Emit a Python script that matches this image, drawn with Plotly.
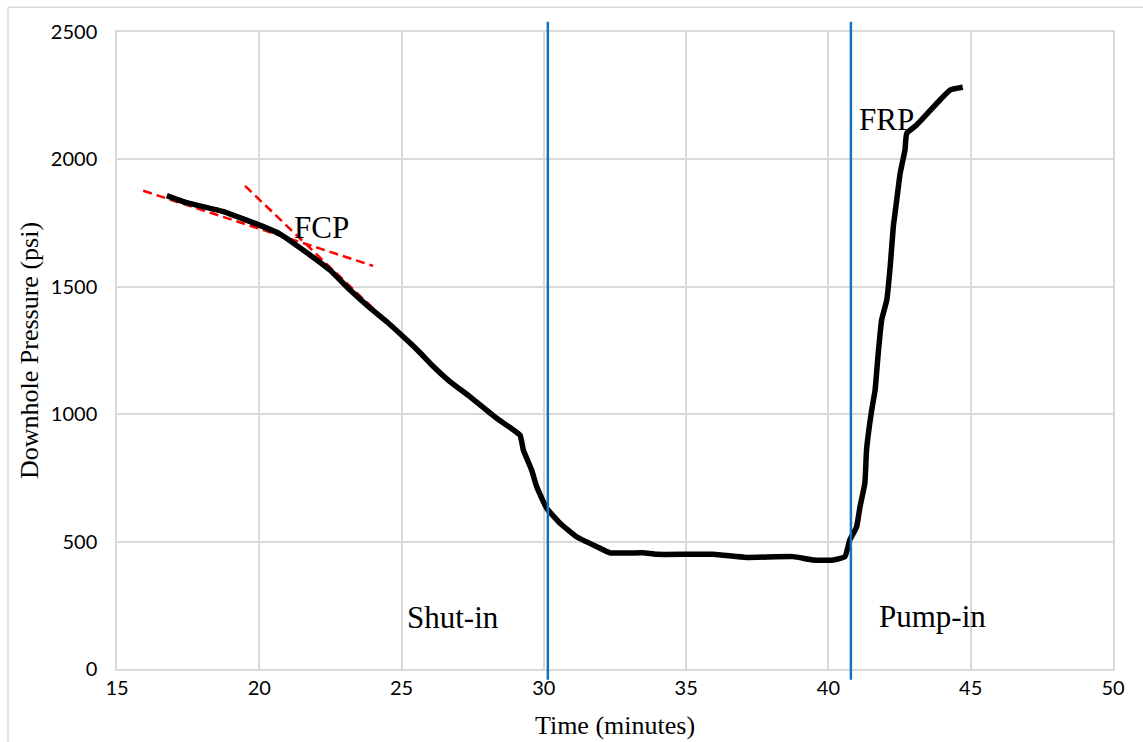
import plotly.graph_objects as go

# Downhole pressure record (minutes, psi)
time_min = [16.75, 17.45, 18.74, 20.14, 20.73, 21.78, 22.48, 23.19, 23.89, 24.48,
            25.30, 25.65, 26.00, 26.70, 27.40, 28.34, 29.16, 29.28, 29.57, 29.75,
            30.10, 30.57, 31.15, 31.86, 32.32, 33.49, 33.96, 35.95, 37.12, 38.76,
            39.46, 40.17, 40.58, 40.75, 40.99, 41.11, 41.28, 41.34, 41.52, 41.64,
            41.75, 41.87, 42.05, 42.17, 42.28, 42.40, 42.52, 42.69, 42.75, 43.10,
            43.92, 44.27, 44.72]
pressure_psi = [1858, 1830, 1795, 1736, 1707, 1625, 1566, 1487, 1417, 1363,
                1279, 1241, 1200, 1128, 1069, 984, 918, 859, 781, 715,
                631, 572, 519, 480, 456, 456, 450, 450, 438, 441,
                428, 428, 441, 506, 558, 637, 729, 860, 1016, 1095,
                1239, 1370, 1448, 1579, 1736, 1840, 1945, 2037, 2102, 2135,
                2233, 2272, 2283]

# Tangent lines used to pick the fracture closure pressure
tangent1_x = [15.92, 24.0]
tangent1_y = [1877, 1582]
tangent2_x = [19.5, 25.65]
tangent2_y = [1896, 1239]

# Period boundaries (minutes)
shut_in_start = 30.14
pump_in_start = 40.79

labels = [("FCP", 22.17, 1731), ("FRP", 42.04, 2155),
          ("Shut-in", 26.82, 204), ("Pump-in", 43.66, 208)]

x_ticks = [15, 20, 25, 30, 35, 40, 45, 50]
y_ticks = [0, 500, 1000, 1500, 2000, 2500]

grid = "#d9d9d9"
serif = "Liberation Serif"
fig = go.Figure()

for tx, ty in [(tangent1_x, tangent1_y), (tangent2_x, tangent2_y)]:
    fig.add_trace(go.Scatter(x=tx, y=ty, mode="lines",
                             line=dict(color="#ff0000", width=2.5, dash="9px,5px"),
                             hoverinfo="skip", showlegend=False))

fig.add_trace(go.Scatter(x=time_min, y=pressure_psi, mode="lines",
                         line=dict(color="black", width=5.5, shape="spline", smoothing=0.4),
                         showlegend=False))

for xv in [shut_in_start, pump_in_start]:
    fig.add_shape(type="line", xref="x", yref="paper", x0=xv, x1=xv,
                  y0=-0.017, y1=1.016, line=dict(color="#1272c4", width=2.5))

# Outer chart frame (left and top edges)
fig.add_shape(type="line", xref="paper", yref="paper", x0=-0.1094, x1=-0.1094,
              y0=-0.2, y1=1.039, line=dict(color=grid, width=1.5))
fig.add_shape(type="line", xref="paper", yref="paper", x0=-0.1094, x1=1.2,
              y0=1.039, y1=1.039, line=dict(color=grid, width=1.5))

for text, lx, ly in labels:
    fig.add_annotation(x=lx, y=ly, text=text, showarrow=False,
                       font=dict(family=serif, size=31, color="black"))

fig.update_layout(
    width=1143, height=742,
    margin=dict(l=117, r=30, t=32, b=73),
    paper_bgcolor="white", plot_bgcolor="white",
    xaxis=dict(range=[15, 50], tickvals=x_ticks, showgrid=True, gridcolor=grid,
               gridwidth=1.5, showline=True, linecolor=grid, linewidth=1.5, mirror=True,
               zeroline=False, ticks="", automargin=False,
               tickfont=dict(family="Lato", size=20, color="black"),
               title=dict(text="Time (minutes)", standoff=18,
                          font=dict(family=serif, size=26, color="black"))),
    yaxis=dict(range=[0, 2500], tickvals=y_ticks, showgrid=True, gridcolor=grid,
               gridwidth=1.5, showline=True, linecolor=grid, linewidth=1.5, mirror=True,
               zeroline=False, ticks="", ticklabelstandoff=14, automargin=False,
               tickfont=dict(family="Lato", size=20, color="black"),
               title=dict(text="Downhole Pressure (psi)", standoff=5,
                          font=dict(family=serif, size=26, color="black"))),
)

fig.write_html("out.html")
